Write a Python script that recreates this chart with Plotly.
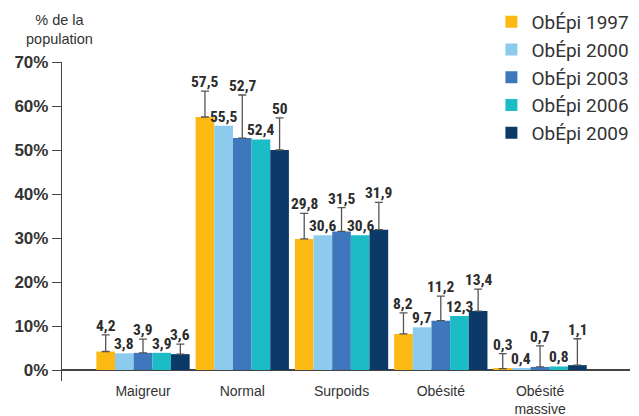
import plotly.graph_objects as go

categories = ['Maigreur', 'Normal', 'Surpoids', 'Obésité', 'Obésité<br>massive']
series_names = ['ObÉpi 1997', 'ObÉpi 2000', 'ObÉpi 2003', 'ObÉpi 2006', 'ObÉpi 2009']
colors = ['#FDB913', '#8CCBEE', '#3F77BD', '#1BBCC6', '#0B3A68']

v1997 = [4.2, 57.5, 29.8, 8.2, 0.3]
v2000 = [3.8, 55.5, 30.6, 9.7, 0.4]
v2003 = [3.9, 52.7, 31.5, 11.2, 0.7]
v2006 = [3.9, 52.4, 30.6, 12.3, 0.8]
v2009 = [3.6, 50.0, 31.9, 13.4, 1.1]

# upper error bars (only 1997, 2003, 2009 have them)
e1997 = [3.8, 5.9, 5.8, 4.8, 3.4]
e2003 = [3.1, 9.8, 5.4, 5.6, 4.8]
e2009 = [2.3, 7.3, 6.2, 5.0, 6.0]

values = [v1997, v2000, v2003, v2006, v2009]
errors = [e1997, None, e2003, None, e2009]

fig = go.Figure()
for name, vals, err, col in zip(series_names, values, errors, colors):
    fig.add_trace(go.Bar(
        x=categories, y=vals, name=name, legendgroup=name,
        marker=dict(color=col, line=dict(width=0)),
        error_y=dict(type='data', array=err, symmetric=False, arrayminus=[0] * len(vals),
                     color='#555555', thickness=1.3, width=4, visible=err is not None),
    ))

# value labels above bar (or above error cap)
label_font = ('Noto Sans ExtraCondensed, Noto Sans Condensed, Roboto Condensed, '
              'Liberation Sans Narrow, DejaVu Sans Condensed, sans-serif')
bar_px = 18.7
annotations = []
for i, (vals, err) in enumerate(zip(values, errors)):
    for j, v in enumerate(vals):
        top = v + (err[j] if err else 0)
        annotations.append(dict(
            x=categories[j], y=top, xref='x', yref='y',
            text=f'{v:g}'.replace('.', ','), showarrow=False,
            xanchor='center', yanchor='bottom', xshift=(i - 2) * bar_px, yshift=-2,
            font=dict(family=label_font, size=15.5, color='#2b2b2b', weight='bold'),
        ))

annotations.append(dict(
    x=-0.004, y=1.163, xref='paper', yref='paper', text='% de la<br>population',
    showarrow=False, xanchor='center', yanchor='top',
    font=dict(family='Liberation Sans', size=14.5, color='#333333'),
))

# page body has an 8px margin, so the figure is sized to fit what is left
fig.update_layout(
    width=631, height=408,
    barmode='group', bargap=0.06, bargroupgap=0,
    paper_bgcolor='white', plot_bgcolor='white',
    margin=dict(l=54, r=9, t=54, b=35, autoexpand=False),
    showlegend=True,
    legend=dict(
        x=0.756, y=1.185, xanchor='left', yanchor='top',
        font=dict(family='Roboto', size=19, color='#333333'),
        bgcolor='rgba(0,0,0,0)', tracegroupgap=0,
    ),
    xaxis=dict(
        range=[-0.816, 4.906], showline=False, ticks='', showgrid=False,
        ticklabelstandoff=0,
        tickfont=dict(family='Liberation Sans', size=14, color='#333333'),
    ),
    yaxis=dict(
        range=[-2.5, 70], tickvals=[0, 10, 20, 30, 40, 50, 60, 70],
        ticktext=['0%', '10%', '20%', '30%', '40%', '50%', '60%', '70%'],
        showline=True, linecolor='#444444', linewidth=1.3,
        ticks='outside', ticklen=9, tickcolor='#444444', tickwidth=1.3,
        showgrid=False, zeroline=True, zerolinecolor='#444444', zerolinewidth=1.5,
        tickfont=dict(family='Liberation Sans', size=17, color='#333333', weight='bold'),
    ),
    annotations=annotations,
)

fig.write_html("out.html")
